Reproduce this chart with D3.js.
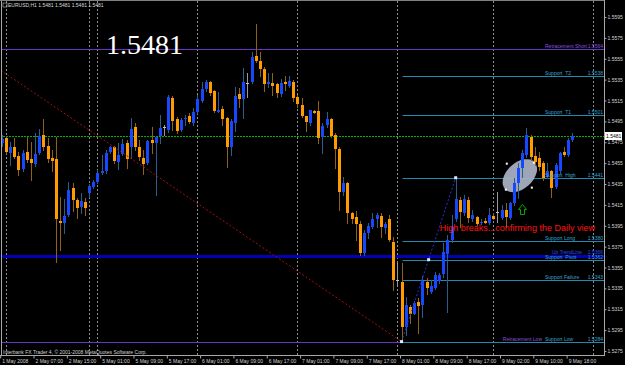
<!DOCTYPE html>
<html>
<head>
<meta charset="utf-8">
<script src="https://cdn.jsdelivr.net/npm/d3@7"></script>
<style>
html, body { margin: 0; padding: 0; background: #000; }
svg { display: block; }
text { font-family: "Liberation Sans", Arial, sans-serif; }
</style>
</head>
<body>
<svg id="chart"></svg>
<script>
const width = 625;
const height = 365;

// EURUSD H1, one entry per bar (bar 0 = 1 May 23:00)
const opens = [
    1.5474, 1.5479, 1.5465, 1.5470, 1.5462, 1.5449, 1.5466, 1.5459, 1.5454, 1.5465,
    1.5482, 1.5471, 1.5460, 1.5459, 1.5400, 1.5398, 1.5405, 1.5431, 1.5420, 1.5413,
    1.5418, 1.5426, 1.5432, 1.5437, 1.5446, 1.5447, 1.5466, 1.5470, 1.5456, 1.5464,
    1.5474, 1.5470, 1.5490, 1.5470, 1.5460, 1.5455, 1.5477, 1.5474, 1.5481, 1.5490,
    1.5487, 1.5517, 1.5497, 1.5487, 1.5497, 1.5500, 1.5493, 1.5504, 1.5515, 1.5526,
    1.5533, 1.5524, 1.5504, 1.5507, 1.5498, 1.5470, 1.5493, 1.5521, 1.5516, 1.5532,
    1.5533, 1.5558, 1.5553, 1.5545, 1.5531, 1.5532, 1.5531, 1.5521, 1.5533, 1.5529,
    1.5533, 1.5518, 1.5511, 1.5500, 1.5493, 1.5505, 1.5505, 1.5480, 1.5492, 1.5497,
    1.5482, 1.5469, 1.5427, 1.5436, 1.5407, 1.5403, 1.5397, 1.5369, 1.5388, 1.5394,
    1.5401, 1.5404, 1.5393, 1.5401, 1.5379, 1.5343, 1.5341, 1.5298, 1.5317, 1.5310,
    1.5322, 1.5319, 1.5341, 1.5332, 1.5335, 1.5342, 1.5349, 1.5368, 1.5381, 1.5401,
    1.5420, 1.5407, 1.5420, 1.5401, 1.5403, 1.5398, 1.5400, 1.5398, 1.5404, 1.5408,
    1.5402, 1.5410, 1.5402, 1.5417, 1.5436, 1.5450, 1.5463, 1.5480, 1.5462, 1.5460,
    1.5455, 1.5442, 1.5447, 1.5432, 1.5447, 1.5466, 1.5463, 1.5477
];
const highs = [
    1.5482, 1.5481, 1.5475, 1.5479, 1.5466, 1.5468, 1.5480, 1.5475, 1.5484, 1.5488,
    1.5497, 1.5479, 1.5468, 1.5480, 1.5423, 1.5421, 1.5437, 1.5436, 1.5422, 1.5426,
    1.5422, 1.5435, 1.5439, 1.5448, 1.5463, 1.5468, 1.5471, 1.5471, 1.5474, 1.5478,
    1.5477, 1.5498, 1.5493, 1.5477, 1.5468, 1.5477, 1.5490, 1.5481, 1.5501, 1.5492,
    1.5520, 1.5519, 1.5499, 1.5498, 1.5501, 1.5503, 1.5508, 1.5520, 1.5533, 1.5535,
    1.5534, 1.5525, 1.5523, 1.5510, 1.5499, 1.5497, 1.5528, 1.5527, 1.5546, 1.5541,
    1.5561, 1.5588, 1.5561, 1.5547, 1.5541, 1.5541, 1.5532, 1.5536, 1.5538, 1.5538,
    1.5535, 1.5520, 1.5517, 1.5500, 1.5506, 1.5506, 1.5515, 1.5493, 1.5504, 1.5498,
    1.5484, 1.5470, 1.5442, 1.5437, 1.5408, 1.5409, 1.5400, 1.5391, 1.5398, 1.5407,
    1.5407, 1.5407, 1.5399, 1.5405, 1.5384, 1.5359, 1.5359, 1.5327, 1.5319, 1.5323,
    1.5326, 1.5347, 1.5345, 1.5343, 1.5351, 1.5350, 1.5378, 1.5386, 1.5405, 1.5441,
    1.5423, 1.5424, 1.5423, 1.5410, 1.5404, 1.5401, 1.5402, 1.5412, 1.5407, 1.5427,
    1.5415, 1.5417, 1.5418, 1.5441, 1.5455, 1.5468, 1.5489, 1.5482, 1.5470, 1.5466,
    1.5457, 1.5455, 1.5448, 1.5455, 1.5466, 1.5470, 1.5479, 1.5484
];
const lows = [
    1.5471, 1.5465, 1.5453, 1.5460, 1.5444, 1.5447, 1.5456, 1.5439, 1.5452, 1.5464,
    1.5468, 1.5456, 1.5447, 1.5360, 1.5372, 1.5388, 1.5404, 1.5409, 1.5402, 1.5407,
    1.5405, 1.5423, 1.5431, 1.5436, 1.5445, 1.5446, 1.5465, 1.5455, 1.5449, 1.5463,
    1.5450, 1.5460, 1.5468, 1.5458, 1.5445, 1.5454, 1.5465, 1.5424, 1.5474, 1.5482,
    1.5485, 1.5487, 1.5484, 1.5486, 1.5492, 1.5493, 1.5492, 1.5503, 1.5514, 1.5524,
    1.5520, 1.5504, 1.5504, 1.5492, 1.5451, 1.5463, 1.5486, 1.5509, 1.5498, 1.5518,
    1.5532, 1.5552, 1.5538, 1.5524, 1.5528, 1.5520, 1.5518, 1.5519, 1.5525, 1.5528,
    1.5515, 1.5509, 1.5499, 1.5486, 1.5492, 1.5503, 1.5474, 1.5465, 1.5490, 1.5480,
    1.5450, 1.5410, 1.5424, 1.5398, 1.5398, 1.5381, 1.5367, 1.5367, 1.5383, 1.5393,
    1.5394, 1.5384, 1.5388, 1.5380, 1.5333, 1.5338, 1.5284, 1.5290, 1.5302, 1.5310,
    1.5292, 1.5308, 1.5330, 1.5331, 1.5334, 1.5340, 1.5346, 1.5312, 1.5379, 1.5400,
    1.5394, 1.5405, 1.5399, 1.5400, 1.5396, 1.5397, 1.5398, 1.5397, 1.5401, 1.5399,
    1.5401, 1.5394, 1.5401, 1.5415, 1.5422, 1.5442, 1.5461, 1.5458, 1.5453, 1.5448,
    1.5439, 1.5441, 1.5423, 1.5431, 1.5446, 1.5462, 1.5462, 1.5476
];
const closes = [
    1.5478, 1.5466, 1.5470, 1.5461, 1.5448, 1.5465, 1.5458, 1.5455, 1.5464, 1.5481,
    1.5470, 1.5459, 1.5457, 1.5401, 1.5398, 1.5404, 1.5429, 1.5420, 1.5412, 1.5419,
    1.5412, 1.5433, 1.5437, 1.5446, 1.5447, 1.5465, 1.5470, 1.5457, 1.5463, 1.5473,
    1.5459, 1.5488, 1.5470, 1.5461, 1.5454, 1.5476, 1.5474, 1.5480, 1.5489, 1.5490,
    1.5518, 1.5495, 1.5486, 1.5496, 1.5498, 1.5494, 1.5504, 1.5516, 1.5526, 1.5533,
    1.5522, 1.5505, 1.5506, 1.5497, 1.5470, 1.5495, 1.5519, 1.5516, 1.5533, 1.5532,
    1.5557, 1.5553, 1.5545, 1.5531, 1.5533, 1.5529, 1.5522, 1.5532, 1.5531, 1.5534,
    1.5517, 1.5512, 1.5500, 1.5494, 1.5506, 1.5503, 1.5479, 1.5491, 1.5497, 1.5481,
    1.5469, 1.5427, 1.5436, 1.5407, 1.5401, 1.5397, 1.5369, 1.5388, 1.5395, 1.5401,
    1.5405, 1.5394, 1.5397, 1.5381, 1.5343, 1.5343, 1.5298, 1.5319, 1.5310, 1.5321,
    1.5318, 1.5342, 1.5335, 1.5337, 1.5348, 1.5348, 1.5370, 1.5381, 1.5394, 1.5421,
    1.5408, 1.5421, 1.5402, 1.5405, 1.5397, 1.5399, 1.5398, 1.5405, 1.5401, 1.5408,
    1.5410, 1.5403, 1.5417, 1.5436, 1.5450, 1.5465, 1.5482, 1.5461, 1.5456, 1.5451,
    1.5441, 1.5447, 1.5431, 1.5453, 1.5465, 1.5463, 1.5477, 1.5481
];

const tickBars = [0, 8, 16, 24, 32, 40, 48, 56, 64, 72, 80, 88, 96, 104, 112, 120, 128, 136];
const timeLabels = [
    "1 May 2008", "2 May 07:00", "2 May 15:00", "5 May 01:00", "5 May 09:00", "5 May 17:00",
    "6 May 01:00", "6 May 09:00", "6 May 17:00", "7 May 01:00", "7 May 09:00", "7 May 17:00",
    "8 May 01:00", "8 May 09:00", "8 May 17:00", "9 May 02:00", "9 May 10:00", "9 May 18:00"
];
const daySeparators = [1, 21, 23, 47, 71, 95, 118, 142];
const priceTicks = [
    1.5595, 1.5575, 1.5555, 1.5535, 1.5515, 1.5495, 1.5475, 1.5455, 1.5435,
    1.5415, 1.5395, 1.5375, 1.5355, 1.5335, 1.5315, 1.5295, 1.5275
];

// drawn objects
const supportNames = ["Support  T2", "Support  T1", "Support  High", "Support Long", "Support  Pivot", "Support Failure", "Support Low"];
const supportValues = [1.5538, 1.5501, 1.5441, 1.5380, 1.5362, 1.5343, 1.5284];
const supportFromBar = 96;
const retraceShort = 1.5564;
const retraceLow = 1.5284;
const upTrend = 1.5366;
const redTrend = [[-1, 1.5546], [96, 1.5284]];
const blueTrend = [[96, 1.5284], [109, 1.5441]];
const ellipseCenter = [124.4, 1.5443];
const arrowAt = [125, 1.5416];
const noteAt = [105.2, 1.5390];
const noteText = "High breaks...confirming the Daily view";

const lastPrice = closes[closes.length - 1];
const fmt = d3.format(".4f");

const plotRight = 604;
const plotBottom = 355;

const x = d3.scaleLinear().domain([0, 144]).range([1.7, 1.7 + 144 * 4.165]);
const y = d3.scaleLinear().domain([1.5275, 1.5595]).range([351, 17]);

const svg = d3.select("#chart").attr("width", width).attr("height", height);
svg.append("rect").attr("width", width).attr("height", height).attr("fill", "#000");

svg.append("defs").append("clipPath").attr("id", "clip")
    .append("rect").attr("x", 2).attr("y", 1).attr("width", plotRight - 2).attr("height", plotBottom - 1);

const plot = svg.append("g").attr("clip-path", "url(#clip)");
const px = b => Math.round(x(b)) + 0.5;
const py = p => Math.round(y(p)) + 0.5;

// day separators
plot.selectAll(".sep").data(daySeparators).enter().append("line")
    .attr("x1", d => px(d)).attr("x2", d => px(d)).attr("y1", 1).attr("y2", plotBottom)
    .attr("stroke", "#8e8e8e").attr("stroke-dasharray", "2,2");

// horizontal levels
plot.append("line").attr("x1", 0).attr("x2", plotRight).attr("y1", py(retraceShort)).attr("y2", py(retraceShort))
    .attr("stroke", "#6a34c8");
plot.append("line").attr("x1", 0).attr("x2", px(supportFromBar)).attr("y1", py(retraceLow)).attr("y2", py(retraceLow))
    .attr("stroke", "#6a34c8");
plot.append("line").attr("x1", 0).attr("x2", plotRight).attr("y1", py(lastPrice)).attr("y2", py(lastPrice))
    .attr("stroke", "#00b400").attr("stroke-dasharray", "2,1");
plot.append("line").attr("x1", 0).attr("x2", plotRight).attr("y1", py(upTrend)).attr("y2", py(upTrend))
    .attr("stroke", "#0000b4").attr("stroke-width", 3);
plot.selectAll(".sup").data(supportValues).enter().append("line")
    .attr("x1", px(supportFromBar)).attr("x2", plotRight).attr("y1", d => py(d)).attr("y2", d => py(d))
    .attr("stroke", "#2389b0");

// ellipse
const ex = x(ellipseCenter[0]), ey = y(ellipseCenter[1]);
plot.append("ellipse").attr("cx", 0).attr("cy", 0).attr("rx", 20).attr("ry", 13)
    .attr("transform", `translate(${ex},${ey}) rotate(-42)`)
    .attr("fill", "#a9b2c4").attr("opacity", 0.93);
[[-13, -12], [14, -13], [-14, 14], [12, 12]].forEach(o => {
    plot.append("rect").attr("x", ex + o[0] - 1).attr("y", ey + o[1] - 1).attr("width", 2).attr("height", 2).attr("fill", "#fff");
});

// level labels
const labels = svg.append("g").style("font-size", "5px");
function levelLabel(name, value, color, nameX, lift) {
    const ty = Math.round(y(value)) - 1 - (lift || 0);
    labels.append("text").attr("x", nameX).attr("y", ty).attr("fill", color)
        .style("white-space", "pre").text(name);
    labels.append("text").attr("x", 603).attr("y", ty).attr("fill", color)
        .attr("text-anchor", "end").text(fmt(value));
}
levelLabel("Retracement Short", retraceShort, "#8a52dc", 545);
levelLabel("Up TrendLine", upTrend, "#2b48ff", 552, 1.5);
labels.append("text").attr("x", 542).attr("y", Math.round(y(retraceLow)) - 1).attr("fill", "#8a52dc")
    .attr("text-anchor", "end").text("Retracement Low");
supportNames.forEach((n, i) => levelLabel(n, supportValues[i], "#3aa2cf", 545));

// candles
const bars = opens.map((o, i) => ({ i, o, h: highs[i], l: lows[i], c: closes[i] }));
const kind = d => d.c > d.o ? "up" : d.c < d.o ? "down" : "flat";
const bodyColor = { up: "#1548ff", down: "#ff9a00", flat: "#c8c8c8" };
const wickColor = { up: "#2b5d8e", down: "#8f6216", flat: "#9a9a9a" };

const candles = plot.append("g").attr("shape-rendering", "crispEdges");
candles.selectAll(".wick").data(bars).enter().append("line")
    .attr("x1", d => px(d.i)).attr("x2", d => px(d.i))
    .attr("y1", d => Math.round(y(d.h))).attr("y2", d => Math.round(y(d.l)) + 1)
    .attr("stroke", d => wickColor[kind(d)]);
candles.selectAll(".body").data(bars).enter().append("rect")
    .attr("x", d => Math.round(x(d.i)) - 1).attr("width", 3)
    .attr("y", d => Math.round(y(Math.max(d.o, d.c))))
    .attr("height", d => Math.max(1, Math.round(y(Math.min(d.o, d.c))) - Math.round(y(Math.max(d.o, d.c)))))
    .attr("fill", d => bodyColor[kind(d)]);

// trend lines
const line = d3.line().x(d => x(d[0])).y(d => y(d[1]));
plot.append("path").attr("d", line(redTrend)).attr("fill", "none")
    .attr("stroke", "#a01010").attr("stroke-dasharray", "2,2");
plot.append("path").attr("d", line(blueTrend)).attr("fill", "none")
    .attr("stroke", "#2434d0").attr("stroke-dasharray", "2,2");
const mid = [(blueTrend[0][0] + blueTrend[1][0]) / 2, (blueTrend[0][1] + blueTrend[1][1]) / 2];
[blueTrend[0], mid, blueTrend[1]].forEach(p => {
    plot.append("rect").attr("x", x(p[0]) - 1.5).attr("y", y(p[1]) - 1.5)
        .attr("width", 3).attr("height", 3).attr("fill", "#dfe6ff");
});

// arrow and note
const ax = Math.round(x(arrowAt[0])) + 0.5, ay = Math.round(y(arrowAt[1])) + 0.5;
plot.append("path")
    .attr("d", `M${ax},${ay} L${ax + 4},${ay + 5} L${ax + 2},${ay + 5} L${ax + 2},${ay + 10} L${ax - 2},${ay + 10} L${ax - 2},${ay + 5} L${ax - 4},${ay + 5} Z`)
    .attr("fill", "none").attr("stroke", "#00a800");
svg.append("text").attr("x", x(noteAt[0])).attr("y", y(noteAt[1]))
    .attr("fill", "#ff1414").style("font-size", "9px").text(noteText);

// big price
svg.append("text").attr("x", 106).attr("y", 54).attr("fill", "#fff")
    .style("font-family", "'Liberation Serif', 'Times New Roman', serif").style("font-size", "28px")
    .text(fmt(lastPrice));

// frame
svg.append("line").attr("x1", 1.5).attr("x2", 1.5).attr("y1", 0).attr("y2", plotBottom).attr("stroke", "#a8a8a8");
svg.append("line").attr("x1", 0).attr("x2", plotRight).attr("y1", 0.5).attr("y2", 0.5).attr("stroke", "#808080");
svg.append("line").attr("x1", plotRight + 0.5).attr("x2", plotRight + 0.5).attr("y1", 0).attr("y2", plotBottom + 1).attr("stroke", "#a8a8a8");
svg.append("line").attr("x1", 0).attr("x2", plotRight + 1).attr("y1", plotBottom + 0.5).attr("y2", plotBottom + 0.5).attr("stroke", "#a8a8a8");

// price axis
const yAxis = svg.append("g").attr("transform", `translate(${plotRight + 0.5},0)`)
    .call(d3.axisRight(y).tickValues(priceTicks).tickSize(2).tickPadding(1).tickFormat(fmt));
yAxis.select(".domain").remove();
yAxis.selectAll("line").attr("stroke", "#a8a8a8");
yAxis.selectAll("text").attr("fill", "#d4d4d4").style("font-size", "5px").style("font-family", "'Liberation Sans', Arial, sans-serif");

svg.append("rect").attr("x", 605).attr("y", Math.round(y(lastPrice)) - 4).attr("width", 17).attr("height", 8).attr("fill", "#fff");
svg.append("text").attr("x", 606).attr("y", Math.round(y(lastPrice)) + 2).attr("fill", "#000")
    .style("font-size", "5px").text(fmt(lastPrice));

// time axis
const xAxis = svg.append("g").attr("transform", `translate(-1.5,${plotBottom + 0.5})`)
    .call(d3.axisBottom(x).tickValues(tickBars).tickSize(3).tickPadding(1).tickFormat((d, i) => timeLabels[i]));
xAxis.select(".domain").remove();
xAxis.selectAll("line").attr("stroke", "#a8a8a8");
xAxis.selectAll("text").attr("fill", "#d4d4d4").attr("text-anchor", "start").attr("dx", 1.5)
    .style("font-size", "5px").style("font-family", "'Liberation Sans', Arial, sans-serif");

// header and footer
svg.append("rect").attr("x", 3).attr("y", 3).attr("width", 4).attr("height", 4).attr("fill", "none").attr("stroke", "#bbb").attr("stroke-width", 0.6);
svg.append("text").attr("x", 8).attr("y", 7.3).attr("fill", "#d8d8d8").style("font-size", "5px")
    .text("EURUSD,H1  1.5481 1.5481 1.5481 1.5481");
svg.append("text").attr("x", 3).attr("y", 353.5).attr("fill", "#d0d0d0").style("font-size", "5px")
    .text("Interbank FX Trader 4, © 2001-2008 MetaQuotes Software Corp.");
</script>
</body>
</html>
